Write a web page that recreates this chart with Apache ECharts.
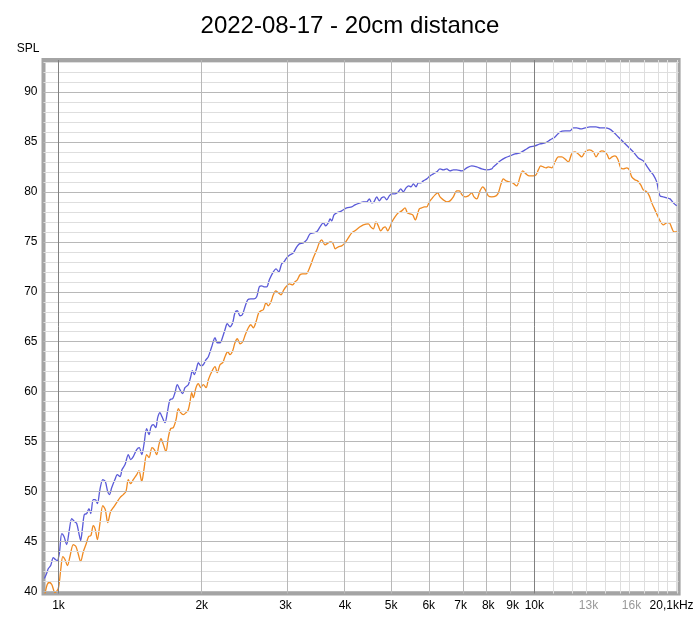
<!DOCTYPE html>
<html><head><meta charset="utf-8">
<script src="https://cdn.jsdelivr.net/npm/echarts@6/dist/echarts.min.js"></script>
<style>html,body{margin:0;padding:0;background:#fff}#c{width:700px;height:619px}</style>
</head><body><div id="c"></div>
<script>
const blueFreq = [934,944,952,963,975,985,994,1004,1016,1027,1040,1054,1066,1080,1092,1104,1113,1124,1133,1146,1159,1169,1183,1195,1207,1222,1239,1254,1269,1279,1294,1314,1329,1347,1360,1380,1402,1418,1436,1460,1478,1496,1512,1532,1550,1565,1582,1601,1616,1634,1650,1674,1693,1715,1738,1757,1777,1800,1824,1844,1874,1896,1911,1929,1952,1967,1990,2015,2042,2065,2099,2133,2156,2185,2214,2238,2263,2293,2323,2349,2376,2407,2434,2466,2498,2535,2576,2609,2643,2673,2703,2739,2774,2820,2865,2903,2945,2978,3017,3066,3115,3167,3207,3270,3324,3377,3432,3489,3545,3602,3644,3690,3721,3751,3793,3843,3937,4034,4133,4199,4302,4371,4444,4500,4553,4603,4664,4723,4778,4832,4895,4957,5015,5096,5178,5238,5305,5375,5445,5506,5568,5641,5704,5771,5844,5941,6036,6134,6235,6336,6438,6545,6650,6757,6869,7037,7210,7386,7567,7752,7942,8137,8200,8336,8470,8678,8890,9108,9331,9559,9793,10033,10279,10531,10789,11053,11324,11601,11885,12076,12277,12517,12780,13093,13479,13742,14079,14375,14656,15015,15383,15760,16146,16541,16946,17277,17564,17786,18081,18222,18372,18668,18977,19283,19593,19918];
const blueSpl = [41.3,41.8,42.3,42.6,43.4,43.2,43.1,43.8,45.8,45.5,44.7,46.2,47.3,47.0,46.8,45.8,45.1,46.5,47.7,47.8,48.3,47.8,49.2,49.2,48.8,50.2,51.2,51.0,50.0,49.7,50.4,51.2,51.7,51.5,52.2,52.7,53.7,53.2,53.5,54.2,54.4,53.7,54.7,56.3,55.7,56.5,56.7,56.4,57.4,57.9,57.5,56.9,57.9,59.2,59.3,59.9,60.7,60.2,59.8,60.4,60.7,61.5,62.1,61.7,62.4,62.9,62.6,62.7,63.2,63.5,64.5,65.4,64.9,64.9,65.5,66.2,66.8,66.5,66.9,67.9,68.1,67.6,67.7,68.5,69.2,69.3,69.3,69.5,70.5,70.6,70.5,70.5,71.2,71.9,72.3,72.0,72.8,73.0,73.4,73.7,73.9,74.5,74.8,74.9,75.2,75.8,75.9,76.0,76.5,76.9,76.6,76.9,77.3,77.1,77.7,77.9,78.1,78.4,78.5,78.7,78.9,79.0,79.0,79.3,78.9,79.0,79.5,79.1,79.4,79.5,79.2,79.6,79.8,79.8,80.0,80.3,80.0,80.4,80.6,80.5,80.8,80.5,80.9,80.9,81.1,81.3,81.6,81.8,82.0,82.3,82.2,82.3,82.1,82.2,82.2,82.1,82.4,82.6,82.5,82.3,82.2,82.3,82.5,82.8,83.1,83.4,83.6,83.8,83.9,84.2,84.5,84.6,84.8,84.9,85.2,85.5,86.0,86.1,86.1,86.4,86.4,86.3,86.4,86.5,86.5,86.4,86.4,86.3,86.0,85.5,85.0,84.5,84.0,83.4,83.1,82.5,82.0,81.7,81.0,80.2,79.6,79.5,79.4,79.3,78.9,78.6];
const orangeFreq = [937,947,956,968,983,999,1011,1021,1032,1044,1057,1074,1088,1101,1113,1128,1142,1157,1170,1183,1195,1207,1222,1239,1254,1269,1287,1308,1329,1347,1368,1386,1402,1418,1436,1460,1476,1496,1512,1532,1550,1572,1590,1608,1626,1642,1661,1682,1701,1721,1743,1766,1786,1806,1829,1853,1874,1890,1905,1920,1945,1967,1990,2015,2042,2065,2099,2133,2156,2185,2214,2238,2268,2293,2323,2349,2376,2407,2439,2469,2506,2535,2567,2601,2635,2664,2694,2730,2760,2796,2828,2861,2897,2935,2968,3007,3055,3106,3141,3176,3218,3260,3313,3377,3432,3489,3533,3574,3632,3690,3721,3769,3817,3873,3937,4001,4065,4133,4199,4302,4371,4478,4531,4588,4648,4700,4755,4815,4862,4919,4974,5022,5096,5178,5264,5349,5409,5480,5552,5622,5677,5732,5799,5872,5941,6016,6086,6184,6266,6336,6438,6545,6650,6757,6869,6956,7048,7151,7266,7386,7469,7567,7689,7790,7889,8004,8137,8308,8401,8499,8606,8720,8860,9007,9183,9331,9453,9606,9760,9951,10082,10195,10314,10445,10582,10700,10878,11053,11231,11418,11601,11788,11983,12176,12372,12577,12780,13049,13304,13479,13656,13856,14079,14237,14375,14564,14777,14971,15190,15383,15638,15836,16021,16279,16493,16734,16946,17227,17445,17649,17846,18081,18372,18668,18977,19217,19442,19660,19976];
const orangeSpl = [39.8,40.7,40.9,40.7,39.9,40.3,42.2,43.5,43.2,42.6,43.5,44.7,44.5,43.7,43.0,44.0,44.7,45.5,45.6,46.6,46.2,45.2,46.8,48.6,48.2,46.9,48.0,48.5,49.0,49.4,49.7,50.0,51.2,50.8,51.2,51.7,52.1,51.0,52.2,53.7,53.4,54.4,54.2,53.7,54.7,55.3,54.7,54.0,55.4,56.3,56.4,57.2,58.3,57.9,57.7,57.9,58.2,59.0,59.9,59.4,60.4,60.8,60.4,60.7,60.4,61.2,62.0,62.5,61.9,62.7,62.9,63.5,64.0,63.7,64.1,64.9,65.3,64.8,65.0,65.7,66.4,66.7,66.4,67.0,67.9,68.1,68.2,68.9,68.6,69.0,69.7,70.1,69.9,69.7,70.1,70.5,70.8,70.7,71.0,71.2,71.7,71.8,71.8,72.5,73.4,74.2,74.9,75.2,74.7,74.9,75.0,74.9,74.3,74.5,74.6,74.9,75.4,75.9,76.1,76.5,76.7,76.8,76.5,76.3,77.0,76.6,76.1,76.4,76.5,76.1,76.5,77.0,77.5,77.9,78.1,78.4,77.9,77.8,77.7,77.2,77.7,78.3,78.4,78.5,78.5,79.0,79.3,79.7,79.9,79.5,79.2,79.0,79.1,79.5,80.1,80.1,79.7,79.5,79.6,79.9,79.5,79.3,80.1,80.5,80.2,79.6,79.5,79.6,79.9,80.7,81.3,81.1,81.0,80.9,80.6,81.5,82.1,81.8,81.6,81.6,81.7,82.2,82.6,82.5,82.4,82.5,82.4,83.0,83.5,83.5,83.3,83.0,83.8,84.0,83.8,83.5,84.0,84.2,84.0,83.5,83.9,84.1,84.0,83.7,83.3,83.5,83.6,83.3,82.4,82.3,82.4,82.2,81.5,81.2,81.1,80.7,80.2,80.0,79.6,78.9,78.4,77.8,77.1,76.7,76.9,76.9,76.4,76.0,76.0];

const tickFreqs = [1000,2000,3000,4000,5000,6000,7000,8000,9000,10000,13000,16000,20100];
const tickLabels = ['1k','2k','3k','4k','5k','6k','7k','8k','9k','10k','13k','16k','20,1kHz'];
const grayTickLabels = ['13k','16k'];
const yTicks = [40,45,50,55,60,65,70,75,80,85,90];
const darkGridFreqs = [1000,10000];
const midGridFreqs = [2000,3000,4000,5000,6000,7000,8000,9000];
const lightGridFreqs = [11000,12000,13000,14000,15000,16000,17000,18000,19000,20000];
const splGridLines = [40,41,42,43,44,45,46,47,48,49,50,51,52,53,54,55,56,57,58,59,60,61,62,63,64,65,66,67,68,69,70,71,72,73,74,75,76,77,78,79,80,81,82,83,84,85,86,87,88,89,90,91,92,93];
const xMinHz = 930, xMaxHz = 20100, yMin = 39.8, yMax = 93.2;

const L = Math.log10;
const FONT = 'Liberation Sans, Arial, sans-serif';
const gridLines = [];
splGridLines.forEach(v => gridLines.push({yAxis: v, lineStyle: {color: v % 5 === 0 ? '#b8b8b8' : '#dedede', width: 1, type: 'solid'}}));
lightGridFreqs.forEach(f => gridLines.push({xAxis: L(f), lineStyle: {color: '#dedede', width: 1, type: 'solid'}}));
midGridFreqs.forEach(f => gridLines.push({xAxis: L(f), lineStyle: {color: '#b8b8b8', width: 1, type: 'solid'}}));
darkGridFreqs.forEach(f => gridLines.push({xAxis: L(f), lineStyle: {color: '#808080', width: 1, type: 'solid'}}));

const chart = echarts.init(document.getElementById('c'), null, {renderer: 'canvas'});
chart.setOption({
  animation: false,
  backgroundColor: '#ffffff',
  textStyle: {fontFamily: FONT},
  title: {text: '2022-08-17 - 20cm distance', left: 'center', top: 9,
    textStyle: {fontSize: 24, fontWeight: 'normal', color: '#000', fontFamily: FONT}},
  grid: {left: 43.5, right: 21.4, top: 60, bottom: 25.5, show: true,
    borderColor: '#a4a4a4', borderWidth: 4, backgroundColor: '#ffffff'},
  xAxis: {
    type: 'value', min: L(xMinHz), max: L(xMaxHz),
    axisLine: {show: false}, axisTick: {show: false}, splitLine: {show: false},
    axisLabel: {
      customValues: tickFreqs.map(L), margin: 6, fontSize: 12, color: '#000', fontFamily: FONT,
      formatter: function (val) {
        let idx = 0, best = 1e9;
        tickFreqs.forEach((f, i) => { const d = Math.abs(L(f) - val); if (d < best) { best = d; idx = i; } });
        const t = tickLabels[idx];
        if (grayTickLabels.indexOf(t) >= 0) return '{g|' + t + '}';
        if (idx === tickFreqs.length - 1) return '{e|' + t + '}';
        return t;
      },
      rich: {
        g: {color: '#999999', fontSize: 12, fontFamily: FONT},
        e: {color: '#000', fontSize: 12, fontFamily: FONT, padding: [0, 14, 0, 0]}
      }
    }
  },
  yAxis: {
    type: 'value', min: yMin, max: yMax,
    name: 'SPL', nameLocation: 'end', nameGap: 5,
    nameTextStyle: {color: '#000', fontSize: 12, fontFamily: FONT, align: 'right', padding: [0, 4, 0, 0]},
    axisLine: {show: false}, axisTick: {show: false}, splitLine: {show: false},
    axisLabel: {customValues: yTicks, margin: 6, fontSize: 12, color: '#000', fontFamily: FONT}
  },
  series: [
    {type: 'line', name: 'grid', data: [], z: 1, silent: true,
      markLine: {silent: true, symbol: ['none', 'none'], label: {show: false}, animation: false, data: gridLines}},
    {type: 'line', name: 'A', z: 3, showSymbol: false, smooth: 0.3,
      lineStyle: {color: '#5a5ad8', width: 1.3}, itemStyle: {color: '#5a5ad8'},
      data: blueFreq.map((f, i) => [L(f), blueSpl[i]])},
    {type: 'line', name: 'B', z: 3, showSymbol: false, smooth: 0.3,
      lineStyle: {color: '#ef8a22', width: 1.3}, itemStyle: {color: '#ef8a22'},
      data: orangeFreq.map((f, i) => [L(f), orangeSpl[i]])}
  ]
});
</script></body></html>
